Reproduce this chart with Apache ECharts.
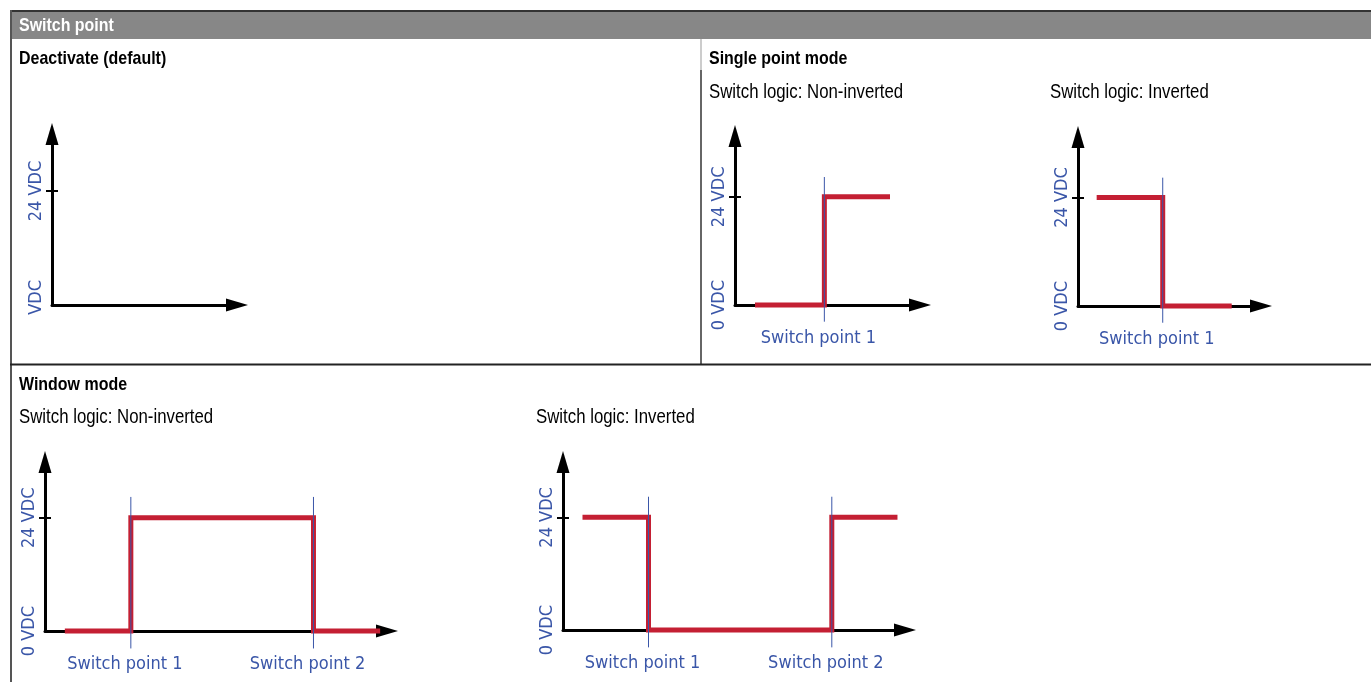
<!DOCTYPE html>
<html>
<head>
<meta charset="utf-8">
<title>Switch point</title>
<script src="https://cdn.jsdelivr.net/npm/echarts@6/dist/echarts.min.js"></script>
<style>
  html, body { margin: 0; padding: 0; background: #fff; }
  #main { width: 1371px; height: 682px; }
</style>
</head>
<body>
<div id="main"></div>
<script>
// voltage levels on the y axis
const levels = [0, 24]
const levelLabels = ['0 VDC', '24 VDC']
const switchLabels = ['Switch point 1', 'Switch point 2']

// x is given in percent of the axis length
const singleNonInvX = [10.8, 48.3, 48.3, 83.8]
const singleNonInvY = [0, 0, 24, 24]
const singleNonInvSwitch = [48.3]

const singleInvX = [10.2, 46.3, 46.3, 84]
const singleInvY = [24, 24, 0, 0]
const singleInvSwitch = [46.3]

const windowNonInvX = [5.8, 25.1, 25.1, 78.5, 78.5, 98]
const windowNonInvY = [0, 0, 24, 24, 0, 0]
const windowNonInvSwitch = [25.1, 78.5]

const windowInvX = [5.7, 25, 25, 78.6, 78.6, 97.8]
const windowInvY = [24, 24, 0, 0, 24, 24]
const windowInvSwitch = [25, 78.6]

// blue switch markers run a little past the 0..24 band
const markerRange = [-3.7, 28.4]

const LABEL_FONT = "'DejaVu Sans Condensed', 'Liberation Sans', sans-serif"
const TITLE_FONT = "'Liberation Sans', Arial, sans-serif"
const BLUE = '#3a56a8'
const RED = '#c41f33'

const panels = [
  { grid: { left: 52, top: 134, width: 185, height: 171 }, yMax: 36, hideZero: true },
  { grid: { left: 735, top: 136, width: 185, height: 169 }, yMax: 37.5, x: singleNonInvX, y: singleNonInvY, sw: singleNonInvSwitch },
  { grid: { left: 1078, top: 137, width: 183, height: 169 }, yMax: 37.4, x: singleInvX, y: singleInvY, sw: singleInvSwitch },
  { grid: { left: 45, top: 462, width: 342, height: 169 }, yMax: 35.8, x: windowNonInvX, y: windowNonInvY, sw: windowNonInvSwitch },
  { grid: { left: 563, top: 462, width: 342, height: 168 }, yMax: 35.8, x: windowInvX, y: windowInvY, sw: windowInvSwitch }
]

const axisLine = {
  show: true,
  symbol: ['none', 'triangle'],
  symbolSize: [13, 22],
  lineStyle: { color: '#000', width: 3 }
}

const xAxis = []
const yAxis = []
const series = []

panels.forEach((p, i) => {
  const sw = p.sw || []
  xAxis.push({
    gridIndex: i,
    type: 'value',
    position: 'bottom',
    min: 0,
    max: 100,
    axisLine: axisLine,
    axisTick: { show: false },
    splitLine: { show: false },
    axisLabel: {
      show: sw.length > 0,
      customValues: sw,
      formatter: v => switchLabels[sw.indexOf(v)] || '',
      margin: 24,
      color: BLUE,
      fontSize: 18,
      fontFamily: LABEL_FONT,
      padding: [0, 12, 0, 0]
    }
  })
  // main axis: line, labels and outer half of the 24 VDC tick
  yAxis.push({
    gridIndex: i,
    type: 'value',
    position: 'left',
    min: 0,
    max: p.yMax,
    axisLine: axisLine,
    splitLine: { show: false },
    axisTick: { show: true, customValues: [levels[1]], length: 6, lineStyle: { color: '#000', width: 2 } },
    axisLabel: {
      customValues: levels,
      rotate: 90,
      margin: 7,
      color: BLUE,
      fontSize: 18,
      fontFamily: LABEL_FONT,
      formatter: v => {
        // the first panel shows only "VDC" at zero
        if (p.hideZero && v === 0) return '{h|0 }VDC'
        return levelLabels[levels.indexOf(v)]
      },
      rich: { h: { color: 'transparent', fontSize: 18, fontFamily: LABEL_FONT } }
    }
  })
  // inner half of the tick
  yAxis.push({
    gridIndex: i,
    type: 'value',
    position: 'left',
    min: 0,
    max: p.yMax,
    axisLine: { show: false },
    splitLine: { show: false },
    axisLabel: { show: false },
    axisTick: { show: true, inside: true, customValues: [levels[1]], length: 6, lineStyle: { color: '#000', width: 2 } }
  })

  if (p.x) {
    series.push({
      type: 'line',
      xAxisIndex: i,
      yAxisIndex: i * 2,
      data: p.x.map((x, k) => [x, p.y[k]]),
      symbol: 'none',
      clip: false,
      z: 3,
      lineStyle: { color: RED, width: 5, join: 'miter', cap: 'butt' }
    })
    sw.forEach(s => {
      series.push({
        type: 'line',
        xAxisIndex: i,
        yAxisIndex: i * 2,
        data: [[s, markerRange[0]], [s, markerRange[1]]],
        symbol: 'none',
        clip: false,
        z: 4,
        lineStyle: { color: BLUE, width: 1 }
      })
    })
  }
})

// condensed look: Liberation Sans squeezed horizontally
function txt (x, y, text, bold, color) {
  return {
    type: 'text',
    x: x,
    y: y,
    z: 10,
    scaleX: 0.84,
    style: {
      text: text,
      fill: color || '#000',
      fontSize: bold ? 19 : 20,
      fontWeight: bold ? 'bold' : 'normal',
      fontFamily: TITLE_FONT,
      verticalAlign: 'middle'
    }
  }
}

const graphic = [
  // header bar
  { type: 'rect', shape: { x: 10, y: 10, width: 1361, height: 29 }, style: { fill: '#878787' } },
  { type: 'line', shape: { x1: 10, y1: 11, x2: 1371, y2: 11 }, style: { stroke: '#333', lineWidth: 2 } },
  // outer left border
  { type: 'line', shape: { x1: 11, y1: 10, x2: 11, y2: 682 }, style: { stroke: '#555', lineWidth: 2 } },
  // divider between top panels
  { type: 'line', shape: { x1: 701, y1: 39, x2: 701, y2: 70 }, style: { stroke: '#bbb', lineWidth: 1.5 } },
  { type: 'line', shape: { x1: 701, y1: 70, x2: 701, y2: 364 }, style: { stroke: '#333', lineWidth: 1.5 } },
  // divider between rows
  { type: 'line', shape: { x1: 10, y1: 364.5, x2: 1371, y2: 364.5 }, style: { stroke: '#222', lineWidth: 2 } },
  txt(19, 26, 'Switch point', true, '#fff'),
  txt(19, 59, 'Deactivate (default)', true),
  txt(709, 59, 'Single point mode', true),
  txt(709, 92, 'Switch logic: Non-inverted'),
  txt(1050, 92, 'Switch logic: Inverted'),
  txt(19, 385, 'Window mode', true),
  txt(19, 417, 'Switch logic: Non-inverted'),
  txt(536, 417, 'Switch logic: Inverted')
]

const chart = echarts.init(document.getElementById('main'), null, { renderer: 'canvas' })
chart.setOption({
  animation: false,
  backgroundColor: '#fff',
  grid: panels.map(p => p.grid),
  xAxis: xAxis,
  yAxis: yAxis,
  series: series,
  graphic: graphic
})
</script>
</body>
</html>
